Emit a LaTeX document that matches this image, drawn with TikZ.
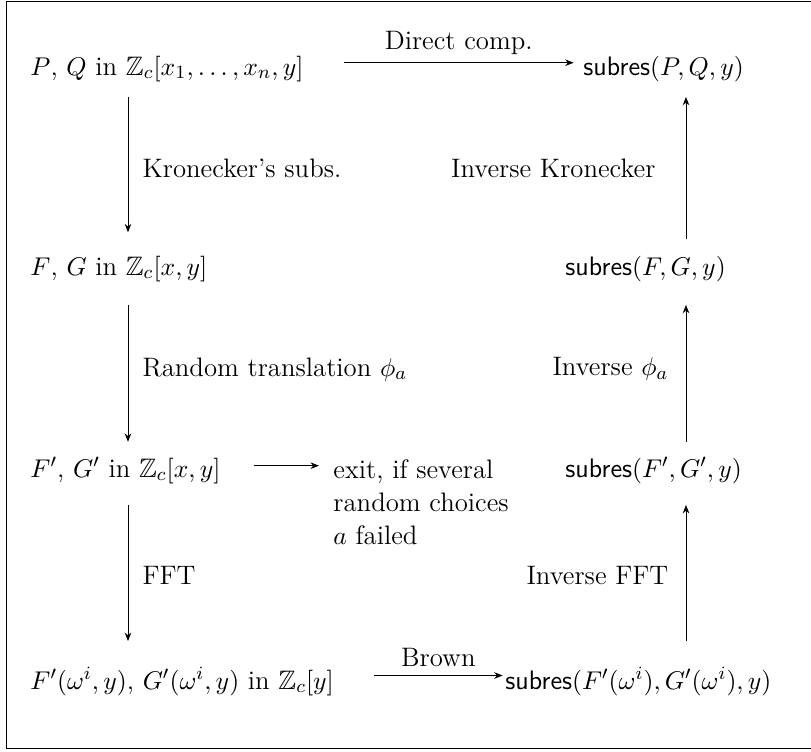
\documentclass[tikz,border=0pt]{standalone}
\usepackage{amssymb}
\usetikzlibrary{arrows.meta}

\begin{document}
\begin{tikzpicture}[
x=0.0150cm, y=-0.0150cm,
font=\fontsize{11.4}{14.1}\selectfont,
txt/.style={inner sep=0pt, anchor=base west},
arrow/.style={-{Stealth[length=3.6pt, width=2.8pt]}}
]
\useasboundingbox (0,0) rectangle (811,751);
\draw (811,1) -- (6,1) -- (6,748) -- (811,748);

\coordinate (lc) at (128,0);
\coordinate (rc) at (686,0);

\node[txt] (pq) at (30,75)
{$P$, $Q$ in $\mathbb{Z}_c[x_1,\ldots,x_n,y]$};
\node[txt] (spq) at (583,75)
{$\textsf{subres}(P,Q,y)$};

\node[txt] (fg) at (30,275)
{$F$, $G$ in $\mathbb{Z}_c[x,y]$};
\node[txt] (sfg) at (565,275)
{$\textsf{subres}(F,G,y)$};

\node[txt] (fgp) at (30,477)
{$F'$, $G'$ in $\mathbb{Z}_c[x,y]$};
\node[txt, anchor=north west, align=left] (exit) at (333,459)
{exit, if several\\
random choices\\
$a$ failed};
\node[txt] (sfgp) at (565,477)
{$\textsf{subres}(F',G',y)$};

\node[txt] (fw) at (30,689)
{$F'(\omega^i,y)$, $G'(\omega^i,y)$ in $\mathbb{Z}_c[y]$};
\node[txt] (sfw) at (505,689)
{$\textsf{subres}(F'(\omega^i),G'(\omega^i),y)$};

\draw[arrow] ([shift={(17pt,2.5pt)}]pq.east) -- ([shift={(-4pt,2.5pt)}]spq.west)
node[midway, above] {Direct comp.};
\draw[arrow] ([shift={(14pt,2pt)}]fgp.east) -- ([shift={(-6pt,2pt)}]exit.west |- fgp.east);
\draw[arrow] ([shift={(17pt,2.5pt)}]fw.east) -- ([shift={(-1pt,2.5pt)}]sfw.west)
node[midway, above] {Brown};

\draw[arrow, shorten <=6.4pt, shorten >=9.8pt] (pq.south -| lc) -- (fg.north -| lc)
node[midway, right=2.7pt] {Kronecker's subs.};
\draw[arrow, shorten <=9.8pt, shorten >=6.4pt] (fg.south -| lc) -- (fgp.north -| lc)
node[midway, right=2.7pt] {Random translation $\phi_a$};
\draw[arrow, shorten <=9pt, shorten >=11pt] (fgp.south -| lc) -- (fw.north -| lc)
node[midway, right=2.7pt] {FFT};

\draw[arrow, shorten <=6.8pt, shorten >=6.4pt] (sfg.north -| rc) -- (spq.south -| rc)
node[midway, left=9.5pt] {Inverse Kronecker};
\draw[arrow, shorten <=6.4pt, shorten >=9.8pt] (sfgp.north -| rc) -- (sfg.south -| rc)
node[midway, left=4pt] {Inverse $\phi_a$};
\draw[arrow, shorten <=11pt, shorten >=9pt] (sfw.north -| rc) -- (sfgp.south -| rc)
node[midway, left=4pt] {Inverse FFT};

\end{tikzpicture}
\end{document}
